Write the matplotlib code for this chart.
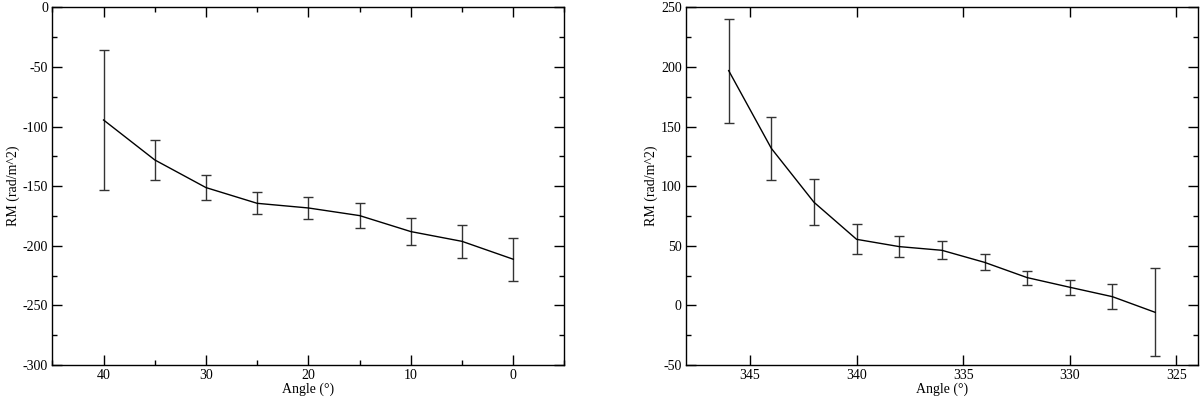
"""
RM vs Angle - two panels, xmgrace-like style
"""
import matplotlib
matplotlib.use('Agg')
import matplotlib.pyplot as plt
from matplotlib.ticker import MultipleLocator

plt.rcParams['font.family'] = ['Liberation Serif', 'DejaVu Serif']
plt.rcParams['font.size'] = 10
plt.rcParams['axes.unicode_minus'] = False

# Left panel data
angle_left = [40, 35, 30, 25, 20, 15, 10, 5, 0]
rm_left = [-94.5, -128, -151.2, -164.4, -168.3, -174.7, -188.1, -196.3, -211.3]
err_left = [58.7, 16.5, 10.6, 9.2, 9.4, 10.3, 11.6, 13.7, 18.0]

# Right panel data
angle_right = [346, 344, 342, 340, 338, 336, 334, 332, 330, 328, 326]
rm_right = [196.9, 131.7, 86.5, 55.4, 49.3, 46.2, 36.1, 23.3, 15.2, 7.3, -5.8]
err_right = [43.7, 26.5, 19.2, 12.5, 9.0, 7.5, 6.8, 5.9, 6.5, 10.7, 37.0]


def style_axes(ax, xminor=None):
    ax.tick_params(which='both', direction='in', top=True, right=True, width=1.0)
    ax.tick_params(which='major', length=7, pad=3)
    ax.tick_params(which='minor', length=3.5)
    ax.yaxis.set_minor_locator(MultipleLocator(25))
    if xminor:
        ax.xaxis.set_minor_locator(MultipleLocator(xminor))
    for sp in ax.spines.values():
        sp.set_linewidth(1.0)
    ax.set_xlabel('Angle (°)', labelpad=0)
    ax.set_ylabel('RM (rad/m^2)', labelpad=2)


fig = plt.figure(figsize=(12, 3.99), dpi=100)

ax1 = fig.add_axes([0.0436, 0.0852, 0.4268, 0.8965])
ax1.errorbar(angle_left, rm_left, yerr=err_left, color='black', lw=1.0,
             ecolor='#333333', elinewidth=1.0, capsize=3.6, capthick=1.0)
ax1.set_xlim(45, -5)
ax1.set_ylim(-300, 0)
ax1.xaxis.set_major_locator(MultipleLocator(10))
ax1.yaxis.set_major_locator(MultipleLocator(50))
style_axes(ax1, xminor=5)

ax2 = fig.add_axes([0.5717, 0.0852, 0.4264, 0.8965])
ax2.errorbar(angle_right, rm_right, yerr=err_right, color='black', lw=1.0,
             ecolor='#333333', elinewidth=1.0, capsize=3.6, capthick=1.0)
ax2.set_xlim(348, 324)
ax2.set_ylim(-50, 250)
ax2.xaxis.set_major_locator(MultipleLocator(5))
ax2.yaxis.set_major_locator(MultipleLocator(50))
style_axes(ax2)

fig.savefig('out.png', dpi=100)
plt.close(fig)
